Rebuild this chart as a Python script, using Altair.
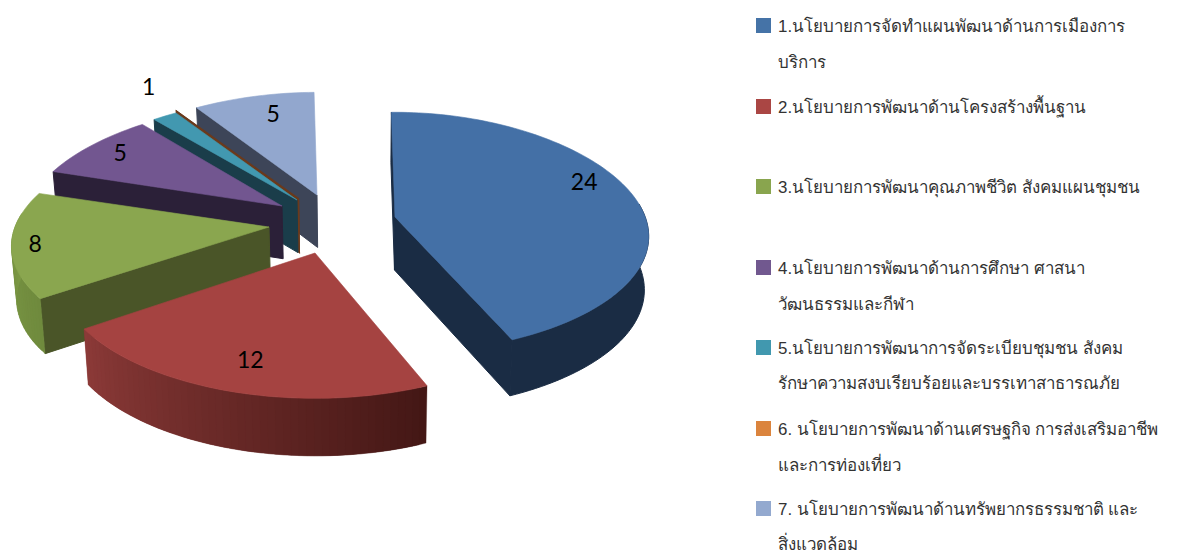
import math
import altair as alt

# ---- data ----
values = [24, 12, 8, 5, 1, 0, 5]
shown = ["24", "12", "8", "5", "1", "", "5"]
legend_lines = [
    (0, "1.นโยบายการจัดทำแผนพัฒนาด้านการเมืองการ"),
    (None, "บริการ"),
    (1, "2.นโยบายการพัฒนาด้านโครงสร้างพื้นฐาน"),
    (2, "3.นโยบายการพัฒนาคุณภาพชีวิต สังคมแผนชุมชน"),
    (3, "4.นโยบายการพัฒนาด้านการศึกษา ศาสนา"),
    (None, "วัฒนธรรมและกีฬา"),
    (4, "5.นโยบายการพัฒนาการจัดระเบียบชุมชน สังคม"),
    (None, "รักษาความสงบเรียบร้อยและบรรเทาสาธารณภัย"),
    (5, "6. นโยบายการพัฒนาด้านเศรษฐกิจ การส่งเสริมอาชีพ"),
    (None, "และการท่องเที่ยว"),
    (6, "7. นโยบายการพัฒนาด้านทรัพยากรธรรมชาติ และ"),
    (None, "สิ่งแวดล้อม"),
]

# ---- layout and style ----
W, H = 1163, 545
OX, OY = 8, 8
legend_y = [26, 62, 107, 187, 268, 304, 348, 383, 429, 465, 509, 544]
apex = [(395, 217), (315, 253), (269, 227), (282, 206), (297, 200), (298, 199), (317, 195)]
depth = [1.02, 1.09, 1.0, 1.0, 1.0, 1.0, 1.0]
breadth = [0.985, 1.0, 1.0, 1.0, 1.0, 1.0, 1.0]
twist = [0, 1.5, 0.5, 1.0, 0, 0, 0.2]
top_col = ["#4470A6", "#A54341", "#8AA64F", "#725690", "#4298B0", "#6B3A1C", "#92A7CE"]
face_col = ["#1A2C44", "#431715", "#4A5528", "#2B2038", "#1A3D4A", "#6B3A1C", "#3D4558"]
wall_left = ["#1A2C44", "#8C3A38", "#7F9B47", "#2B2038", "#1A3D4A", "#6B3A1C", "#3D4558"]
wall_right = ["#1A2C44", "#431715", "#6F8A3D", "#2B2038", "#1A3D4A", "#6B3A1C", "#3D4558"]
legend_col = ["#4573A7", "#AA4644", "#89A54E", "#71588F", "#4198AF", "#DB843D", "#93A9CF"]
label_f = [0.85, 0.80, 0.91, 0.84, 1.32, 0, 0.78]
label_turn = [-8, -0.5, -1, 0, 4, 0, 2.5]
START = -1.0
DRAW = [6, 5, 4, 3, 2, 0, 1]


def rim(i, deg, f=1.0):
    t = math.radians(deg + twist[i])
    X, Y = math.sin(t) * f, -math.cos(t) * f
    dx = breadth[i] * 254 * X * (1 + 0.17 * Y)
    dy = depth[i] * 116 * Y / (1 - 0.13 * Y)
    return apex[i][0] + dx, apex[i][1] + dy


def drop(p):
    x, y = p
    return 360 + (x - 360) * 0.985, y + 53 + 0.025 * (y - 217)


def mix(a, b, t):
    ca = [int(a[k:k + 2], 16) for k in (1, 3, 5)]
    cb = [int(b[k:k + 2], 16) for k in (1, 3, 5)]
    return "#%02X%02X%02X" % tuple(round(u + (v - u) * t) for u, v in zip(ca, cb))


def poly(pts, col, sw=0.6):
    ring = [[round(a, 2), round(b, 2)] for a, b in pts]
    ring.append(ring[0])
    return {"type": "Feature", "geometry": {"type": "Polygon", "coordinates": [ring]},
            "properties": {"fill": col, "sw": sw}}


total = sum(values)
bounds = [START]
for v in values:
    bounds.append(bounds[-1] + v / total * 360)

features = []
labels = []
for i in DRAW:
    a0, a1 = bounds[i], bounds[i + 1]
    steps = max(2, int((a1 - a0) / 1.5))
    angs = [a0 + (a1 - a0) * k / steps for k in range(steps + 1)]
    A = apex[i]
    mid = rim(i, (a0 + a1) / 2)
    for edge in (a0, a1):
        e = rim(i, edge)
        ex, ey = e[0] - A[0], e[1] - A[1]
        mx, my = mid[0] - A[0], mid[1] - A[1]
        if values[i] == 0 or (ex * my - ey * mx) * ex < 0:
            features.append(poly([A, e, drop(e), drop(A)], face_col[i], 2.2 if values[i] == 0 else 1))
    front = [a for a in angs if -math.cos(math.radians(a + twist[i])) > -0.12]
    if values[i] > 0 and len(front) > 1:
        if wall_left[i] == wall_right[i]:
            ring = [rim(i, a) for a in front] + [drop(rim(i, a)) for a in reversed(front)]
            features.append(poly(ring, wall_left[i], 1))
        else:
            n = len(front) - 1
            for k in range(n):
                # each slab runs under the next one so that no seams show
                end = front[min(k + 2, n)]
                p, q = rim(i, front[k]), rim(i, end)
                m = rim(i, front[k + 1])
                c = mix(wall_right[i], wall_left[i], (k + 0.5) / n)
                features.append(poly([p, m, q, drop(q), drop(m), drop(p)], c, 0.3))
    features.append(poly([A] + [rim(i, a) for a in angs], top_col[i], 1 if values[i] == 0 else 0.6))
    if shown[i]:
        lx, ly = rim(i, (a0 + a1) / 2 + label_turn[i], label_f[i])
        labels.append({"x": lx, "y": ly, "t": shown[i]})

x = alt.X("x:Q", axis=None, scale=alt.Scale(domain=[OX, OX + W], nice=False, zero=False))
y = alt.Y("y:Q", axis=None, scale=alt.Scale(domain=[OY + H, OY], nice=False, zero=False))

pie = alt.Chart(alt.Data(values=features)).mark_geoshape().encode(
    fill=alt.Fill("properties.fill:N", scale=None),
    stroke=alt.Stroke("properties.fill:N", scale=None),
    strokeWidth=alt.StrokeWidth("properties.sw:Q", scale=None),
).project(type="identity", scale=1, translate=[-OX, -OY])

label_layer = alt.Chart(alt.Data(values=labels)).mark_text(
    font="Lato", fontSize=23, color="#000000", align="center", baseline="middle"
).encode(x=x, y=y, text="t:N")

rows = [{"x": 778, "y": ly, "t": line} for (s, line), ly in zip(legend_lines, legend_y)]
text_layer = alt.Chart(alt.Data(values=rows)).mark_text(
    font="Liberation Sans, Noto Sans, sans-serif", fontSize=16.9, color="#333333",
    align="left", baseline="middle", dy=1
).encode(x=x, y=y, text="t:N")

keys = [{"x": 763.5, "y": ly - 0.5, "c": legend_col[s]} for (s, line), ly in zip(legend_lines, legend_y) if s is not None]
key_layer = alt.Chart(alt.Data(values=keys)).mark_square(size=225, opacity=1).encode(
    x=x, y=y, color=alt.Color("c:N", scale=None), fill=alt.Fill("c:N", scale=None)
)

chart = alt.layer(pie, label_layer, key_layer, text_layer).properties(
    width=W, height=H, padding=0, autosize=alt.AutoSizeParams(type="none")
).configure_view(stroke=None)

chart.save("out.html", embed_options={"renderer": "svg", "actions": False})
